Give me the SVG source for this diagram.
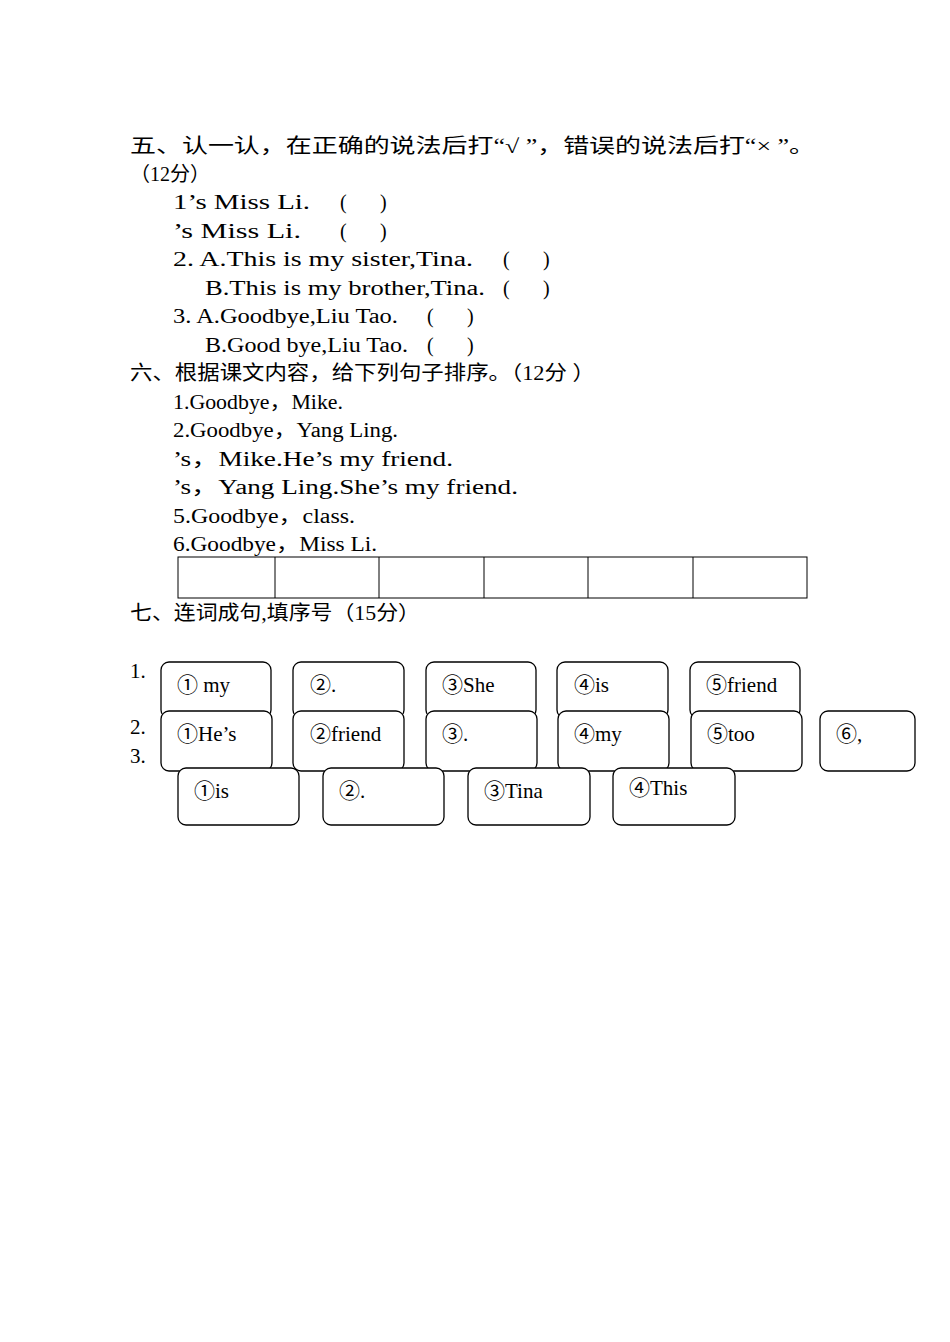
<svg xmlns="http://www.w3.org/2000/svg" width="950" height="1342" viewBox="0 0 950 1342">
<style>
.t{font-family:"Liberation Serif","Noto Sans CJK SC",serif;font-size:20px;fill:#000}
.e{font-family:"Liberation Serif","Noto Sans CJK SC",serif;font-size:20px;fill:#000}
.b{fill:#fff;stroke:#000;stroke-width:1.3}
.w{font-family:"Liberation Serif","Noto Sans CJK SC",serif;font-size:21px;fill:#000}
</style>
<rect width="950" height="1342" fill="#fff"/>
<g id="text">
<text class="t" x="130" y="153" textLength="685" lengthAdjust="spacingAndGlyphs">五、认一认，在正确的说法后打“√ ”，错误的说法后打“× ”。</text>
<text class="t" x="130" y="181">（12分）</text>
<text class="e" x="173" y="209" textLength="137" lengthAdjust="spacingAndGlyphs">1’s Miss Li.</text><text class="e" x="340" y="209">(</text><text class="e" x="380" y="209">)</text>
<text class="e" x="173" y="238" textLength="128" lengthAdjust="spacingAndGlyphs">’s Miss Li.</text><text class="e" x="340" y="238">(</text><text class="e" x="380" y="238">)</text>
<text class="e" x="173" y="266" textLength="300" lengthAdjust="spacingAndGlyphs">2. A.This is my sister,Tina.</text><text class="e" x="503" y="266">(</text><text class="e" x="543" y="266">)</text>
<text class="e" x="205" y="295" textLength="280" lengthAdjust="spacingAndGlyphs">B.This is my brother,Tina.</text><text class="e" x="503" y="295">(</text><text class="e" x="543" y="295">)</text>
<text class="e" x="173" y="323" textLength="225" lengthAdjust="spacingAndGlyphs">3. A.Goodbye,Liu Tao.</text><text class="e" x="427" y="323">(</text><text class="e" x="467" y="323">)</text>
<text class="e" x="205" y="352" textLength="203" lengthAdjust="spacingAndGlyphs">B.Good bye,Liu Tao.</text><text class="e" x="427" y="352">(</text><text class="e" x="467" y="352">)</text>
<text class="t" x="130" y="380" textLength="465" lengthAdjust="spacingAndGlyphs">六、根据课文内容，给下列句子排序。（12分 ）</text>
<text class="e" x="173" y="409" textLength="170" lengthAdjust="spacingAndGlyphs">1.Goodbye，Mike.</text>
<text class="e" x="173" y="437" textLength="225" lengthAdjust="spacingAndGlyphs">2.Goodbye，Yang Ling.</text>
<text class="e" x="173" y="466" textLength="280" lengthAdjust="spacingAndGlyphs">’s，Mike.He’s my friend.</text>
<text class="e" x="173" y="494" textLength="345" lengthAdjust="spacingAndGlyphs">’s，Yang Ling.She’s my friend.</text>
<text class="e" x="173" y="523" textLength="182" lengthAdjust="spacingAndGlyphs">5.Goodbye，class.</text>
<text class="e" x="173" y="551" textLength="204" lengthAdjust="spacingAndGlyphs">6.Goodbye，Miss Li.</text>
<text class="t" x="130" y="620" textLength="290" lengthAdjust="spacingAndGlyphs">七、连词成句,填序号（15分）</text>
<text class="w" x="130" y="678">1.</text>
<text class="w" x="130" y="734">2.</text>
<text class="w" x="130" y="763">3.</text>
</g>
<g id="table" fill="none" stroke="#000" stroke-width="1">
<rect x="178" y="557" width="629" height="41"/>
<path d="M275 557V598M379 557V598M484 557V598M588 557V598M693 557V598"/>
</g>
<g id="row1">
<rect class="b" x="161" y="662" width="110" height="56" rx="8"/><text class="w" x="177" y="692">① my</text>
<rect class="b" x="293" y="662" width="111" height="56" rx="8"/><text class="w" x="310" y="692">②.</text>
<rect class="b" x="426" y="662" width="110" height="56" rx="8"/><text class="w" x="442" y="692">③She</text>
<rect class="b" x="557" y="662" width="111" height="56" rx="8"/><text class="w" x="574" y="692">④is</text>
<rect class="b" x="690" y="662" width="110" height="56" rx="8"/><text class="w" x="706" y="692">⑤friend</text>
</g>
<g id="row2">
<rect class="b" x="161" y="711" width="111" height="60" rx="8"/><text class="w" x="177" y="741">①He’s</text>
<rect class="b" x="293" y="711" width="111" height="60" rx="8"/><text class="w" x="310" y="741">②friend</text>
<rect class="b" x="426" y="711" width="111" height="60" rx="8"/><text class="w" x="442" y="741">③.</text>
<rect class="b" x="558" y="711" width="111" height="60" rx="8"/><text class="w" x="574" y="741">④my</text>
<rect class="b" x="691" y="711" width="111" height="60" rx="8"/><text class="w" x="707" y="741">⑤too</text>
<rect class="b" x="820" y="711" width="95" height="60" rx="8"/><text class="w" x="836" y="741">⑥,</text>
</g>
<g id="row3">
<rect class="b" x="178" y="768" width="121" height="57" rx="8"/><text class="w" x="194" y="798">①is</text>
<rect class="b" x="323" y="768" width="121" height="57" rx="8"/><text class="w" x="339" y="798">②.</text>
<rect class="b" x="468" y="768" width="122" height="57" rx="8"/><text class="w" x="484" y="798">③Tina</text>
<rect class="b" x="613" y="768" width="122" height="57" rx="8"/><text class="w" x="629" y="795" font-size="18">④This</text>
</g>
</svg>
